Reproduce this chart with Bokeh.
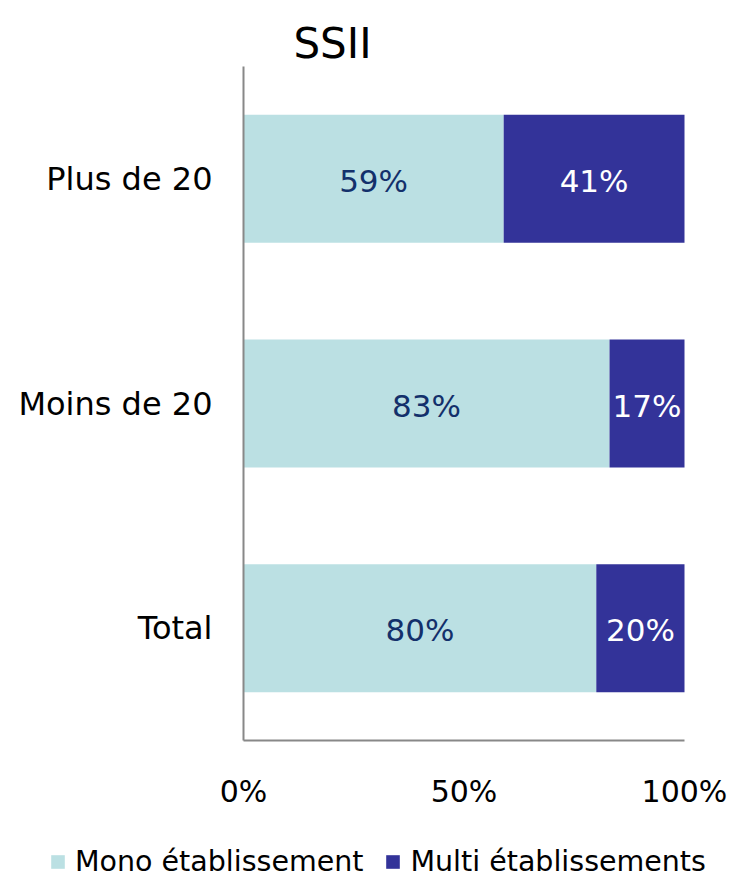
from bokeh.plotting import figure
from bokeh.models import (ColumnDataSource, Range1d, FixedTicker, Label,
                          NumeralTickFormatter, Legend, LegendItem, LabelSet)
from bokeh.core.properties import value
from bokeh.embed import file_html
from bokeh.resources import INLINE

# ---- data ----
categories = ["Total", "Moins de 20", "Plus de 20"]   # bottom -> top
mono = [0.80, 0.83, 0.59]
multi = [0.20, 0.17, 0.41]
series_names = ["Mono établissement", "Multi établissements"]
x_ticks = [0, 0.5, 1.0]
title_text = "SSII"

FONT = "DejaVu Sans"
C_MONO = "#BBE0E3"
C_MULTI = "#333399"

W, H = 736, 879
# layout (pixels): plot area left/right/top/bottom
PL, PR, PT, PB = 243, 684, 66, 740
n = len(categories)
ppx = PR - PL                      # pixels per unit on x
ppy = (PB - PT) / n                # pixels per category on y

idx = list(range(n))
src = ColumnDataSource(dict(
    y=idx,
    mono=mono,
    multi=multi,
    mono_mid=[m / 2 for m in mono],
    multi_mid=[m + k / 2 for m, k in zip(mono, multi)],
    mono_lbl=[f"{round(v*100)}%" for v in mono],
    multi_lbl=[f"{round(v*100)}%" for v in multi],
))

x_range = Range1d(-PL / ppx, 1 + (W - PR) / ppx)
y_lo = -0.5 - (H - PB) / ppy
y_hi = n - 0.5 + PT / ppy
y_range = Range1d(y_lo, y_hi)

p = figure(width=W, height=H, output_backend="svg", toolbar_location=None,
           x_range=x_range, y_range=y_range,
           min_border_left=0, min_border_right=0,
           min_border_top=0, min_border_bottom=0)

r = p.hbar_stack(["mono", "multi"], y="y", height=0.57, source=src,
                 color=[C_MONO, C_MULTI], line_color=None)

p.add_layout(LabelSet(x="mono_mid", y="y", text="mono_lbl", source=src,
                      text_align="center", text_baseline="middle",
                      y_offset=-2,
                      text_font=value(FONT), text_font_size=value("31px"),
                      text_color="#13306B"))
p.add_layout(LabelSet(x="multi_mid", y="y", text="multi_lbl", source=src,
                      text_align="center", text_baseline="middle",
                      y_offset=-2,
                      text_font=value(FONT), text_font_size=value("31px"),
                      text_color="white"))

# title
p.add_layout(Label(x=332, y=H - 43, x_units="screen", y_units="screen",
                   text=title_text, text_align="center",
                   text_baseline="alphabetic", text_font=FONT,
                   text_font_size="42px", text_color="black"))

# axes
for ax in (p.xaxis[0], p.yaxis[0]):
    ax.axis_line_color = "#888888"
    ax.axis_line_width = 2
    ax.major_tick_line_color = None
    ax.minor_tick_line_color = None
    ax.major_label_text_font = FONT
    ax.major_label_text_color = "black"

p.yaxis.fixed_location = 0
p.yaxis.bounds = (-0.5, n - 0.5)
p.yaxis.ticker = FixedTicker(ticks=idx)
p.yaxis.major_label_overrides = {i: c for i, c in zip(idx, categories)}
p.yaxis.major_label_text_font_size = "32px"
p.yaxis.major_label_standoff = 25

p.xaxis.fixed_location = -0.5
p.xaxis.bounds = (0, 1)
p.xaxis.ticker = FixedTicker(ticks=x_ticks)
p.xaxis.formatter = NumeralTickFormatter(format="0%")
p.xaxis.major_label_text_font_size = "30px"
p.xaxis.major_label_standoff = 27

p.xgrid.visible = False
p.ygrid.visible = False
p.outline_line_color = None

legend = Legend(items=[LegendItem(label=series_names[0], renderers=[r[0]]),
                       LegendItem(label=series_names[1], renderers=[r[1]])],
                orientation="horizontal", location=(49, 1),
                label_text_font=FONT, label_text_font_size="28.5px",
                label_text_color="black",
                glyph_width=17, glyph_height=17, label_standoff=9,
                spacing=21, padding=0, margin=0,
                border_line_color=None, background_fill_alpha=0)
p.add_layout(legend, "center")

open("out.html", "w").write(file_html(p, INLINE))
